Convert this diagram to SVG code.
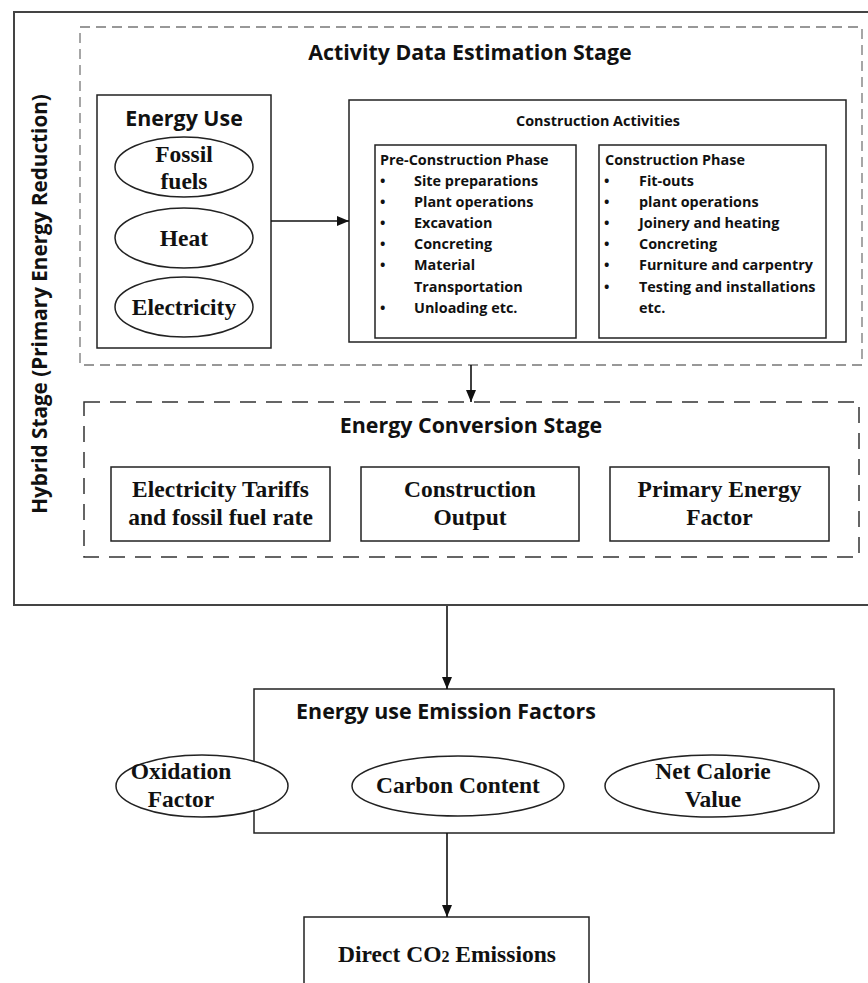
<svg xmlns="http://www.w3.org/2000/svg" width="868" height="983" viewBox="0 0 868 983">
<defs>
<style>
.box{fill:none;stroke:#222;stroke-width:1.5}
.outer{fill:none;stroke:#444;stroke-width:2}
.dash1{fill:none;stroke:#777;stroke-width:1.3;stroke-dasharray:10 6}
.dash2{fill:none;stroke:#333;stroke-width:1.5;stroke-dasharray:16 10}
.ell{fill:#fff;stroke:#222;stroke-width:1.5}
.sans{font-family:"Open Sans","Liberation Sans",sans-serif;font-weight:bold;fill:#111}
.serif{font-family:"Liberation Serif","Times New Roman",serif;font-weight:bold;fill:#111;font-size:23.5px}
.mid{text-anchor:middle}
.t1{font-size:21.4px}
.t2{font-size:14.4px}
.conn{fill:none;stroke:#111;stroke-width:1.6}
</style>
<marker id="arr" markerWidth="12" markerHeight="10" refX="12" refY="5" orient="auto" markerUnits="userSpaceOnUse">
<path d="M0,0 L12,5 L0,10 Z" fill="#111"/>
</marker>
</defs>
<rect width="868" height="983" fill="#fff"/>

<g id="hybrid-stage">
<rect class="outer" x="14" y="12" width="870" height="593"/>
<text class="sans mid" font-size="20.7" transform="translate(47,304) rotate(-90)">Hybrid Stage (Primary Energy Reduction)</text>
</g>

<g id="activity-stage">
<rect class="dash1" x="80" y="27" width="782" height="338"/>
<text class="sans mid t1" x="470" y="60">Activity Data Estimation Stage</text>
</g>

<g id="energy-use">
<rect class="box" x="97" y="95" width="174" height="253"/>
<text class="sans mid t1" x="184" y="126">Energy Use</text>
<ellipse class="ell" cx="184" cy="167" rx="69" ry="30"/>
<text class="serif mid" x="184" y="162">Fossil</text>
<text class="serif mid" x="184" y="189">fuels</text>
<ellipse class="ell" cx="184" cy="238" rx="69" ry="30"/>
<text class="serif mid" x="184" y="246">Heat</text>
<ellipse class="ell" cx="184" cy="307" rx="69" ry="30"/>
<text class="serif mid" x="184" y="315">Electricity</text>
</g>

<g id="construction-activities">
<rect class="box" x="349" y="100" width="497" height="242"/>
<text class="sans mid t2" x="598" y="126">Construction Activities</text>
</g>

<g id="pre-construction">
<rect class="box" x="375" y="145" width="201" height="193"/>
<text class="sans t2" x="380" y="165">Pre-Construction Phase</text>
<g class="sans t2">
<text x="380" y="186">•</text><text x="414" y="186">Site preparations</text>
<text x="380" y="207">•</text><text x="414" y="207">Plant operations</text>
<text x="380" y="228">•</text><text x="414" y="228">Excavation</text>
<text x="380" y="249">•</text><text x="414" y="249">Concreting</text>
<text x="380" y="270">•</text><text x="414" y="270">Material</text>
<text x="414" y="292">Transportation</text>
<text x="380" y="313">•</text><text x="414" y="313">Unloading etc.</text>
</g>
</g>

<g id="construction-phase">
<rect class="box" x="599" y="145" width="227" height="193"/>
<text class="sans t2" x="605" y="165">Construction Phase</text>
<g class="sans t2">
<text x="604" y="186">•</text><text x="639" y="186">Fit-outs</text>
<text x="604" y="207">•</text><text x="639" y="207">plant operations</text>
<text x="604" y="228">•</text><text x="639" y="228">Joinery and heating</text>
<text x="604" y="249">•</text><text x="639" y="249">Concreting</text>
<text x="604" y="270">•</text><text x="639" y="270">Furniture and carpentry</text>
<text x="604" y="292">•</text><text x="639" y="292">Testing and installations</text>
<text x="639" y="313">etc.</text>
</g>
</g>

<g id="conversion-stage">
<rect class="dash2" x="84" y="402" width="775" height="155"/>
<text class="sans mid t1" x="471" y="433">Energy Conversion Stage</text>
</g>

<g id="tariffs">
<rect class="box" x="111" y="467" width="219" height="74"/>
<text class="serif mid" x="220.5" y="497">Electricity Tariffs</text>
<text class="serif mid" x="220.5" y="525">and fossil fuel rate</text>
</g>

<g id="construction-output">
<rect class="box" x="361" y="467" width="218" height="74"/>
<text class="serif mid" x="470" y="497">Construction</text>
<text class="serif mid" x="470" y="525">Output</text>
</g>

<g id="primary-energy-factor">
<rect class="box" x="610" y="467" width="219" height="74"/>
<text class="serif mid" x="719.5" y="497">Primary Energy</text>
<text class="serif mid" x="719.5" y="525">Factor</text>
</g>

<g id="emission-factors">
<rect class="box" x="254" y="689" width="580" height="144"/>
<text class="sans mid t1" x="446" y="719">Energy use Emission Factors</text>
<ellipse class="ell" cx="202" cy="786" rx="86" ry="31"/>
<text class="serif mid" x="181" y="779">Oxidation</text>
<text class="serif mid" x="181" y="807">Factor</text>
<ellipse class="ell" cx="458" cy="786" rx="106" ry="30"/>
<text class="serif mid" x="458" y="793">Carbon Content</text>
<ellipse class="ell" cx="712" cy="786" rx="107" ry="31"/>
<text class="serif mid" x="713" y="779">Net Calorie</text>
<text class="serif mid" x="713" y="807">Value</text>
</g>

<g id="direct-co2">
<rect class="box" x="304" y="917" width="285" height="80"/>
<text class="serif mid" x="447" y="962">Direct CO<tspan font-size="16">2</tspan> Emissions</text>
</g>

<g id="connectors">
<line class="conn" x1="271" y1="221" x2="349" y2="221" marker-end="url(#arr)"/>
<line class="conn" x1="471" y1="365" x2="471" y2="402" marker-end="url(#arr)"/>
<line class="conn" x1="447" y1="606" x2="447" y2="689" marker-end="url(#arr)"/>
<line class="conn" x1="447" y1="833" x2="447" y2="917" marker-end="url(#arr)"/>
</g>
</svg>
